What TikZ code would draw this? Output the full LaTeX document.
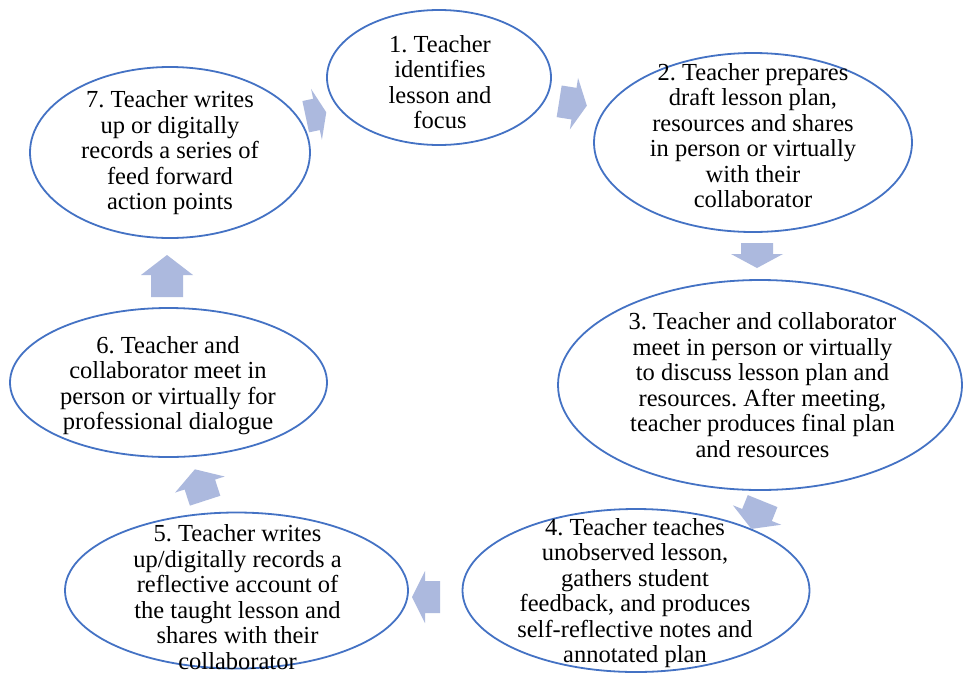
\documentclass[tikz,border=0pt]{standalone}
\usepackage{fontspec}
\setmainfont{Liberation Serif}
\usetikzlibrary{shapes.geometric}
\definecolor{ellblue}{HTML}{4472C4}
\definecolor{arrfill}{HTML}{ACB9DE}
\tikzset{
  ell/.style={ellipse, draw=ellblue, line width=1.8pt, inner sep=0pt},
  lbl/.style={align=center, font=\fontsize{24.5}{25.5}\selectfont\frenchspacing, inner sep=0pt},
  pics/barrow/.style args={#1/#2}{code={
    \fill[arrfill] (-#1/2,-16) -- (#1/2-#2,-16) -- (#1/2-#2,-26) -- (#1/2,0)
      -- (#1/2-#2,26) -- (#1/2-#2,16) -- (-#1/2,16) -- cycle;}}
}
\begin{document}
\frenchspacing
\begin{tikzpicture}[x=1pt,y=-1pt]
\useasboundingbox[fill=white] (0,0) rectangle (964,678);
% ellipses
\node[ell, minimum width=224pt, minimum height=135pt] (e1) at (439,77.5) {};
\node[ell, minimum width=318pt, minimum height=179pt] (e2) at (753,142.5) {};
\node[ell, minimum width=404pt, minimum height=210pt] (e3) at (760,385) {};
\node[ell, minimum width=347pt, minimum height=163pt] (e4) at (636,590.5) {};
\node[ell, minimum width=343pt, minimum height=156pt] (e5) at (236.5,590.5) {};
\node[ell, minimum width=317pt, minimum height=149pt] (e6) at (168.5,382.5) {};
\node[ell, minimum width=280pt, minimum height=171pt] (e7) at (170,152.5) {};
% labels
\node[lbl] (t1) at (440,82) {1. Teacher\\identifies\\lesson and\\focus};
\node[lbl] (t2) at (753,135.5) {2. Teacher prepares\\draft lesson plan,\\resources and shares\\in person or virtually\\with their\\collaborator};
\node[lbl] (t3) at (762.5,385) {3. Teacher and collaborator\\meet in person or virtually\\to discuss lesson plan and\\resources. After meeting,\\teacher produces final plan\\and resources};
\node[lbl] (t4) at (635,593) {4. Teacher teaches\\unobserved lesson,\\gathers student\\feedback, and produces\\self-reflective notes and\\annotated plan};
\node[lbl] (t5) at (237.5,597) {5. Teacher writes\\up/digitally records a\\reflective account of\\the taught lesson and\\shares with their\\collaborator};
\node[lbl] (t6) at (168,385.5) {6. Teacher and\\collaborator meet in\\person or virtually for\\professional dialogue};
\node[lbl] (t7) at (170,153) {7. Teacher writes\\up or digitally\\records a series of\\feed forward\\action points};
% block arrows
\pic[rotate=12] (a71) at (316,114.5) {barrow=21/10};
\pic[rotate=-9] (a12) at (573,103.5) {barrow=28/13};
\pic[rotate=-90] (a23) at (757,255.5) {barrow=25/14};
\pic[rotate=-112] (a34) at (757,515) {barrow=30/15};
\pic[rotate=180] (a45) at (426,597) {barrow=28/13};
\pic[rotate=108] (a56) at (200,485) {barrow=33/16};
\pic[rotate=90] (a67) at (167,276) {barrow=42/20};
\end{tikzpicture}
\end{document}
